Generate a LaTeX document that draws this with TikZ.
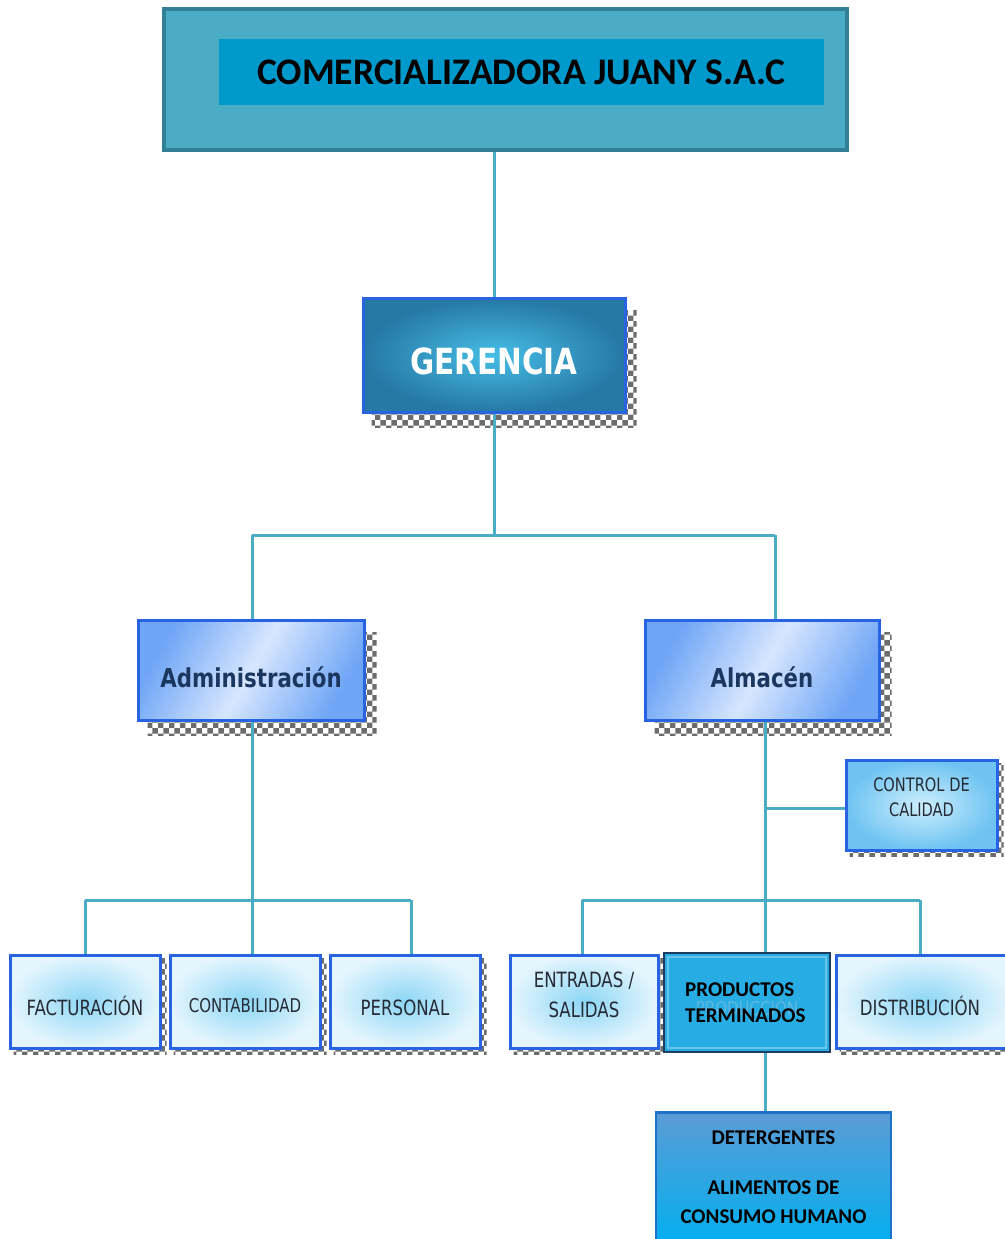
\documentclass[tikz,border=0pt]{standalone}
\usepackage{fontspec}
\setmainfont{DejaVu Sans}
\newfontfamily\carl{Carlito}
\newfontfamily\tah[FakeStretch=0.82]{DejaVu Sans}
\newfontfamily\tahn[FakeStretch=0.79]{DejaVu Sans}
\usetikzlibrary{patterns,backgrounds}
\definecolor{linec}{RGB}{75,172,198}
\definecolor{topfill}{RGB}{75,172,198}
\definecolor{topedge}{RGB}{49,128,150}
\definecolor{titlefill}{RGB}{0,153,204}
\definecolor{boxedge}{RGB}{40,100,225}
\definecolor{gerin}{RGB}{70,190,230}
\definecolor{gerout}{RGB}{38,120,165}
\definecolor{admA}{RGB}{110,165,245}
\definecolor{admL}{RGB}{215,230,255}
\definecolor{navy}{RGB}{28,55,95}
\definecolor{cyC}{RGB}{140,214,245}
\definecolor{cyW}{RGB}{228,245,253}
\definecolor{ctlC}{RGB}{205,238,252}
\definecolor{ctlW}{RGB}{110,195,242}
\definecolor{labc}{RGB}{38,42,52}
\definecolor{prodfill}{RGB}{40,172,228}
\definecolor{prodedge}{RGB}{30,62,95}
\definecolor{ghost}{RGB}{95,182,222}
\definecolor{detT}{RGB}{91,155,213}
\definecolor{detB}{RGB}{0,176,240}
\definecolor{detedge}{RGB}{30,112,200}
\newcommand{\lowr}[2]{\raisebox{-#1}[0pt][0pt]{#2}}
\begin{document}
\begin{tikzpicture}[x=1pt,y=-1pt,
  conn/.style={draw=linec,line width=3pt},
  topbox/.style={draw=topedge,line width=4pt,fill=topfill,inner sep=0pt,minimum width=683pt,minimum height=141pt},
  titlebox/.style={fill=titlefill,inner sep=0pt,minimum width=605pt,minimum height=66pt,font=\carl\bfseries\fontsize{37.5}{40}\selectfont},
  bigbox/.style={draw=boxedge,line width=3pt,inner sep=0pt},
  gerbox/.style={bigbox,inner color=gerin,outer color=gerout,minimum width=262pt,minimum height=114pt,text=white,font=\tah\bfseries\fontsize{36}{40}\selectfont},
  admbox/.style={bigbox,left color=admA,right color=admA,middle color=admL,shading angle=60,minimum width=226pt,minimum height=100pt,text=navy,font=\tah\bfseries\fontsize{26}{30}\selectfont},
  smallbox/.style={bigbox,inner color=cyC,outer color=cyW,minimum width=150pt,minimum height=93pt,text=labc,align=center,font=\tahn\fontsize{21}{30}\selectfont},
  ctlbox/.style={bigbox,inner color=ctlC,outer color=ctlW,minimum width=151pt,minimum height=90pt,text=labc,align=center,font=\tahn\fontsize{18.5}{25}\selectfont},
  prodbox/.style={draw=prodedge,line width=2pt,fill=prodfill,inner sep=0pt,minimum width=166pt,minimum height=99pt},
  detbox/.style={draw=detedge,line width=2.5pt,top color=detT,bottom color=detB,inner sep=0pt,minimum width=235pt,minimum height=135pt},
  boldlab/.style={font=\carl\bfseries\fontsize{21}{26}\selectfont,text=black,align=left,inner sep=0pt},
  detlab/.style={font=\carl\bfseries\fontsize{21}{29}\selectfont,text=black,align=center,inner sep=0pt},
  shadowpat/.style={pattern=checkerboard,pattern color=gray!85!black}
]
\useasboundingbox (0,0) rectangle (1004,1239);

% nodes
\node[topbox] (top) at (505.5,79.5) {};
\node[titlebox] (title) at (521.5,72) {COMERCIALIZADORA JUANY S.A.C};
\node[gerbox] (ger) at (494,355) {\lowr{19pt}{GERENCIA}};
\node[admbox] (adm) at (251,670) {\lowr{17.5pt}{Administración}};
\node[admbox,minimum width=234pt] (alm) at (762,670) {\lowr{17.5pt}{Almacén}};
\node[smallbox] (fac) at (85,1001.5) {\lowr{14pt}{FACTURACIÓN}};
\node[smallbox,font=\tahn\fontsize{19}{30}\selectfont] (con) at (245,1001.5) {\lowr{11pt}{CONTABILIDAD}};
\node[smallbox] (per) at (405,1001.5) {\lowr{14pt}{PERSONAL}};
\node[smallbox,minimum width=148pt] (ent) at (584,1001.5) {\lowr{0pt}{\begin{tabular}{@{}c@{}}ENTRADAS /\\SALIDAS\end{tabular}}};
\node[smallbox,minimum width=176pt] (dis) at (924,1001.5) {\hspace*{-4pt}\lowr{14pt}{DISTRIBUCIÓN}\hspace*{4pt}};
\node[ctlbox] (ctl) at (921.5,805) {\lowr{-1.5pt}{\begin{tabular}{@{}c@{}}CONTROL DE\\CALIDAD\end{tabular}}};
\node[prodbox] (prod) at (747,1002.5) {};
\draw[prodfill!70!white,line width=1.5pt] ([shift={(5,5)}]prod.north west) rectangle ([shift={(-5,-5)}]prod.south east);
\node[text=ghost,font=\tahn\fontsize{19}{22}\selectfont] (ghostlab) at (747,1007) {PRODUCCIÓN};
\node[boldlab,anchor=west] (prodlab) at (685,1003) {PRODUCTOS\\TERMINADOS};
\node[detbox] (det) at (773.5,1180) {};
\node[detlab] (detlab) at (773.5,1177) {DETERGENTES\\[21pt]ALIMENTOS DE\\CONSUMO HUMANO};

% shadows and connectors behind the boxes
\begin{scope}[on background layer]
  \fill[white] (0,0) rectangle (1004,1239);
  \fill[shadowpat] ([shift={(10,14)}]ger.north west) rectangle ([shift={(10,14)}]ger.south east);
  \fill[shadowpat] ([shift={(11,14)}]adm.north west) rectangle ([shift={(11,14)}]adm.south east);
  \fill[shadowpat] ([shift={(11,14)}]alm.north west) rectangle ([shift={(11,14)}]alm.south east);
  \foreach \n in {fac,con,per,ent,dis,ctl}
    \fill[shadowpat] ([shift={(5,5)}]\n.north west) rectangle ([shift={(5,5)}]\n.south east);

  \coordinate (jg) at (494,535);
  \coordinate (jadm) at (252,535);
  \coordinate (jalm) at (775,535);
  \coordinate (la) at (252,900);
  \coordinate (lfac) at (85,900);
  \coordinate (lper) at (411,900);
  \coordinate (rctl) at (765,808);
  \coordinate (rent) at (582,900);
  \coordinate (rdis) at (920,900);

  \draw[conn] (top.south -| ger.north) -- (ger.north);
  \draw[conn] (ger.south) -- (jg);
  \draw[conn] (jadm) -- (jalm);
  \draw[conn] (jadm) -- (jadm |- adm.north);
  \draw[conn] (jalm) -- (jalm |- alm.north);
  \draw[conn] (la |- adm.south) -- (la);
  \draw[conn] (lfac) -- (lper);
  \draw[conn] (lfac) -- (lfac |- fac.north);
  \draw[conn] (la) -- (la |- con.north);
  \draw[conn] (lper) -- (lper |- per.north);
  \draw[conn] (rctl |- alm.south) -- (rctl |- prod.north);
  \draw[conn] (rctl) -- (rctl -| ctl.west);
  \draw[conn] (rent) -- (rdis);
  \draw[conn] (rent) -- (rent |- ent.north);
  \draw[conn] (rdis) -- (rdis |- dis.north);
  \draw[conn] (rctl |- prod.south) -- (rctl |- det.north);
\end{scope}
\end{tikzpicture}
\end{document}
